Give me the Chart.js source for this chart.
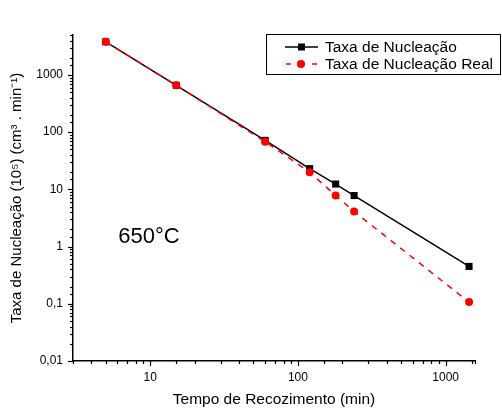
<!DOCTYPE html>
<html>
<head>
<meta charset="utf-8">
<script src="https://cdn.jsdelivr.net/npm/chart.js@4.4.1/dist/chart.umd.min.js"></script>
<style>
  html, body { margin: 0; padding: 0; background: #fff; }
  #wrap { width: 502px; height: 409px; position: relative; }
</style>
</head>
<body>
<div id="wrap"><canvas id="c" width="502" height="409"></canvas></div>
<script>
// Data
const tempos = [5, 15, 60, 120, 180, 240, 1440];
const taxaNucleacao = [3800, 660, 72, 23, 12.4, 7.8, 0.45];
const taxaNucleacaoReal = [3800, 660, 68, 20, 7.8, 4.1, 0.107];
const seriesLabels = ['Taxa de Nucleação', 'Taxa de Nucleação Real'];
const xTitle = 'Tempo de Recozimento (min)';
const yTitle = 'Taxa de Nucleação (10⁵) (cm³ . min⁻¹)';
const annotationText = '650°C';
const xRange = [3, 1580];
const yRange = [0.01, 5000];

const FONT = "'Liberation Sans', Arial, sans-serif";

function isPow10(v) {
  const l = Math.log10(v);
  return Math.abs(l - Math.round(l)) < 1e-9;
}
function fmt(v) {
  if (v >= 1) return String(Math.round(v));
  return String(parseFloat(v.toPrecision(6))).replace('.', ',');
}

const ticksPlugin = {
  id: 'originTicks',
  afterDraw(chart) {
    const ctx = chart.ctx;
    const xs = chart.scales.x, ys = chart.scales.y;
    ctx.save();
    ctx.strokeStyle = '#000';
    ctx.lineWidth = 1.2;
    xs.ticks.forEach(t => {
      const px = Math.round(xs.getPixelForValue(t.value)) + 0.5;
      const len = isPow10(t.value) ? 5 : 3;
      ctx.beginPath();
      ctx.moveTo(px, xs.top);
      ctx.lineTo(px, xs.top + len);
      ctx.stroke();
    });
    ys.ticks.forEach(t => {
      const py = Math.round(ys.getPixelForValue(t.value)) + 0.5;
      const len = isPow10(t.value) ? 5 : 3;
      ctx.beginPath();
      ctx.moveTo(ys.right, py);
      ctx.lineTo(ys.right - len, py);
      ctx.stroke();
    });

    // annotation
    ctx.fillStyle = '#000';
    ctx.font = '22px ' + FONT;
    ctx.textAlign = 'center';
    ctx.textBaseline = 'middle';
    ctx.fillText(annotationText, 149, 237);

    // legend
    const bx = 266.5, by = 34.5, bw = 234, bh = 40;
    ctx.lineWidth = 1;
    ctx.strokeStyle = '#000';
    ctx.strokeRect(bx, by, bw, bh);
    ctx.font = '15.5px ' + FONT;
    ctx.textAlign = 'left';
    ctx.textBaseline = 'middle';
    const rows = [
      { y: 47, color: '#000', dash: [], style: 'rect' },
      { y: 64, color: '#ff0000', dash: [5, 8], style: 'circle' }
    ];
    rows.forEach((r, i) => {
      ctx.save();
      ctx.strokeStyle = r.color;
      ctx.lineWidth = 1.5;
      ctx.setLineDash(r.dash);
      ctx.lineDashOffset = r.dash.length ? -1 : 0;
      ctx.beginPath();
      ctx.moveTo(285, r.y);
      ctx.lineTo(318, r.y);
      ctx.stroke();
      ctx.restore();
      ctx.fillStyle = r.color;
      if (r.style === 'rect') {
        ctx.fillRect(298, r.y - 3.5, 7, 7);
      } else {
        ctx.beginPath();
        ctx.arc(301, r.y, 4, 0, Math.PI * 2);
        ctx.fill();
      }
      ctx.fillStyle = '#000';
      ctx.fillText(chart.data.datasets[i].label, 325, r.y + 1);
    });
    ctx.restore();
  }
};

new Chart(document.getElementById('c'), {
  type: 'line',
  data: {
    datasets: [
      {
        label: seriesLabels[0],
        data: tempos.map((x, i) => ({ x: x, y: taxaNucleacao[i] })),
        borderColor: '#000',
        backgroundColor: '#000',
        borderWidth: 1.5,
        pointStyle: 'rect',
        pointRadius: 5,
        pointBorderWidth: 0,
        tension: 0,
        order: 2
      },
      {
        label: seriesLabels[1],
        data: tempos.map((x, i) => ({ x: x, y: taxaNucleacaoReal[i] })),
        borderColor: '#ff0000',
        backgroundColor: '#ff0000',
        borderWidth: 1.5,
        borderDash: [6, 6],
        pointStyle: 'circle',
        pointRadius: 4,
        pointBorderWidth: 0,
        tension: 0,
        order: 1
      }
    ]
  },
  options: {
    responsive: false,
    animation: false,
    devicePixelRatio: 1,
    layout: { padding: { top: 35, right: 27, left: 0, bottom: 0 } },
    plugins: { legend: { display: false }, tooltip: { enabled: false } },
    scales: {
      x: {
        type: 'logarithmic',
        min: xRange[0],
        max: xRange[1],
        afterFit(s) { s.height = 48; },
        grid: { display: false, drawTicks: true, tickLength: 5 },
        border: { display: true, color: '#000', width: 1.5 },
        ticks: {
          autoSkip: false,
          maxRotation: 0,
          padding: 4,
          color: '#000',
          font: { family: FONT, size: 12 },
          callback: v => isPow10(v) ? fmt(v) : ''
        },
        title: {
          display: true,
          text: xTitle,
          color: '#000',
          font: { family: FONT, size: 15.5 },
          padding: { top: 0, bottom: 0 }
        }
      },
      y: {
        type: 'logarithmic',
        min: yRange[0],
        max: yRange[1],
        afterFit(s) { s.width = 73; },
        grid: { display: false, drawTicks: true, tickLength: 5 },
        border: { display: true, color: '#000', width: 1.5 },
        ticks: {
          autoSkip: false,
          padding: 5,
          color: '#000',
          font: { family: FONT, size: 12 },
          callback: v => isPow10(v) ? fmt(v) : ''
        },
        title: {
          display: true,
          text: yTitle,
          color: '#000',
          font: { family: FONT, size: 15 },
          padding: { top: 8, bottom: 0 }
        }
      }
    }
  },
  plugins: [ticksPlugin]
});
</script>
</body>
</html>
